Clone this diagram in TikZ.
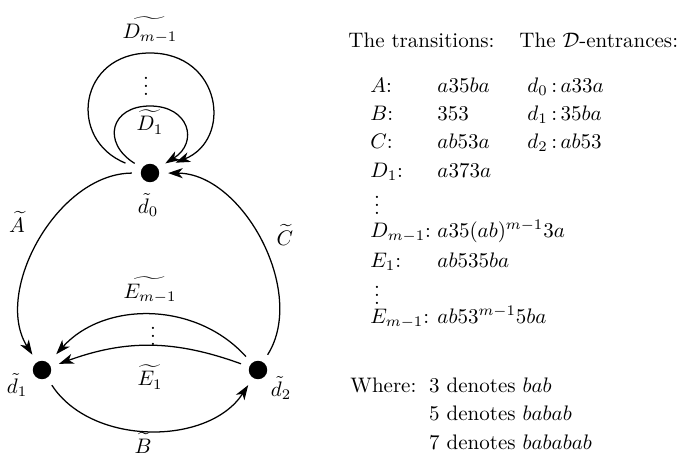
\documentclass[tikz,border=0pt]{standalone}
\usepackage{amsmath}
\usepackage{tikz}
\usetikzlibrary{arrows.meta, positioning}
\tikzset{
  dot/.style={circle, fill=black, inner sep=0pt, minimum size=8.8pt, outer sep=4.2pt},
  trans/.style={-{Stealth[length=7pt, width=4.8pt, inset=2pt]}, line width=0.6pt},
  lbl/.style={inner sep=0pt},
  txt/.style={inner sep=0pt, anchor=base west}
}

\begin{document}
\begin{tikzpicture}[x=0.01674cm, y=0.01674cm]
  \useasboundingbox (0,0) rectangle (681,-460);

  % states
  \node[dot] (d0) at (150,-173) {};
  \node[dot] (d1) at (42,-370) {};
  \node[dot] (d2) at (258,-370) {};
  \node[lbl] (d0lbl) at (148,-205) {$\tilde{d}_0$};
  \node[lbl] (d1lbl) at (17,-385) {$\tilde{d}_1$};
  \node[lbl] (d2lbl) at (281,-388) {$\tilde{d}_2$};

  % transitions A, B, C
  \draw[trans] (d0) to[bend right=61, looseness=0.92] (d1);
  \draw[trans] (d1) to[bend right=57, looseness=0.95] (d2);
  \draw[trans] (d2) to[bend right=61, looseness=0.92] (d0);
  \node[lbl] (Albl) at (17,-222) {$\widetilde{A}$};
  \node[lbl] (Blbl) at (143,-443) {$\widetilde{B}$};
  \node[lbl] (Clbl) at (285,-235) {$\widetilde{C}$};

  % loops D_1 ... D_{m-1}
  \coordinate (D1top) at (150,-106);
  \coordinate (Dmtop) at (150,-53);
  \draw[trans] (d0) to[out=148, in=180, looseness=1.7] (D1top)
    to[out=0, in=32, looseness=1.7] (d0);
  \draw[trans, shorten <=4pt, shorten >=4.5pt] (d0) to[out=158, in=180, looseness=1.6] (Dmtop)
    to[out=0, in=22, looseness=1.6] (d0);
  \node[lbl] (D1lbl) at (150,-122) {$\widetilde{D_1}$};
  \node[lbl] (Ddots) at (146,-80) {$\vdots$};
  \node[lbl] (Dmlbl) at (150,-30) {$\widetilde{D_{m-1}}$};

  % transitions E_1 ... E_{m-1}
  \draw[trans] (d2) to[bend right=20] (d1);
  \draw[trans, shorten >=1.5pt] (d2) to[bend right=48] (d1);
  \node[lbl] (E1lbl) at (150,-377) {$\widetilde{E_1}$};
  \node[lbl] (Edots) at (153,-330) {$\vdots$};
  \node[lbl] (Emlbl) at (150,-290) {$\widetilde{E_{m-1}}$};

  % table of words
  \node[txt] (hdrT) at (348,-47) {The transitions:};
  \node[txt] (hdrD) at (519,-47) {The $\mathcal{D}$-entrances:};

  \node[txt] (tA) at (370,-92) {$A$:};
  \node[txt] (wA) at (437,-92) {$a35ba$};
  \node[txt] (eA) at (527,-92) {$d_0\,{:}\,a33a$};
  \node[txt] (tB) at (370,-120) {$B$:};
  \node[txt] (wB) at (437,-120) {$353$};
  \node[txt] (eB) at (527,-120) {$d_1\,{:}\,35ba$};
  \node[txt] (tC) at (370,-148) {$C$:};
  \node[txt] (wC) at (437,-148) {$ab53a$};
  \node[txt] (eC) at (527,-148) {$d_2\,{:}\,ab53$};
  \node[txt] (tD1) at (370,-177) {$D_1$:};
  \node[txt] (wD1) at (437,-177) {$a373a$};
  \node[lbl] (tDdots) at (377,-199) {$\vdots$};
  \node[txt] (tDm) at (370,-237) {$D_{m-1}$:};
  \node[txt] (wDm) at (437,-237) {$a35(ab)^{m-1}3a$};
  \node[txt] (tE1) at (370,-267) {$E_1$:};
  \node[txt] (wE1) at (437,-267) {$ab535ba$};
  \node[lbl] (tEdots) at (377,-289) {$\vdots$};
  \node[txt] (tEm) at (370,-323) {$E_{m-1}$:};
  \node[txt] (wEm) at (437,-323) {$ab53^{m-1}5ba$};

  \node[txt] (where) at (350,-392) {Where:};
  \node[txt, right=5.7pt of where.base east, anchor=base west] (den3) {3 denotes $bab$};
  \node[txt, below=13.8pt of den3.base west, anchor=base west] (den5) {5 denotes $babab$};
  \node[txt, below=13.8pt of den5.base west, anchor=base west] (den7) {7 denotes $bababab$};
\end{tikzpicture}
\end{document}
